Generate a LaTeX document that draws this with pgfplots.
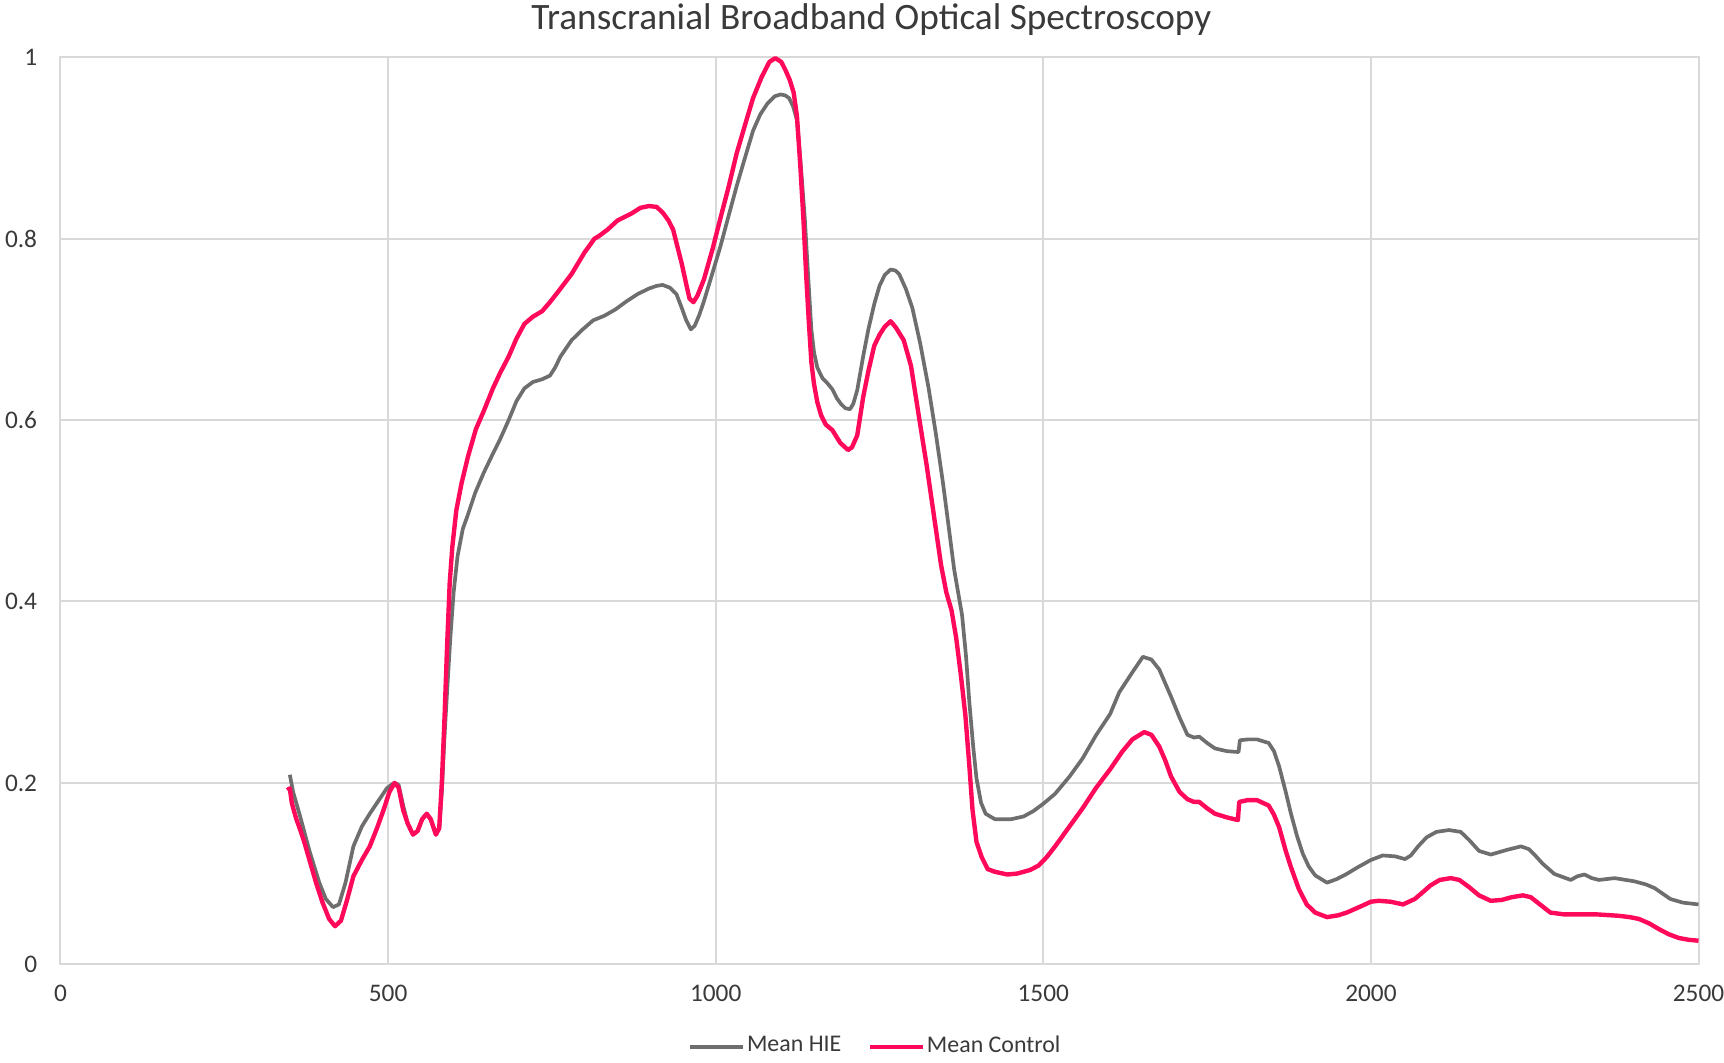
\documentclass[border=0pt]{standalone}
\usepackage{fontspec}
\setmainfont{Carlito}
\usepackage{pgfplots}
\pgfplotsset{compat=1.18}
\definecolor{gridc}{HTML}{D9D9D9}
\definecolor{hie}{HTML}{6E6E6E}
\definecolor{ctrl}{HTML}{FF0A5A}
\definecolor{txt}{HTML}{3A3A3A}
\begin{document}
\begin{tikzpicture}
\path[use as bounding box] (-6.05mm,-9.87mm) rectangle (166.35mm,96.43mm);
\begin{axis}[
  at={(0,0)}, anchor=south west,
  scale only axis, width=163.8mm, height=90.7mm,
  xmin=0, xmax=2500, ymin=0, ymax=1,
  xtick={0,500,...,2500}, ytick={0,0.2,...,1},
  grid=major, major grid style={draw=gridc, line width=0.57pt},
  axis line style={draw=gridc, line width=0.57pt},
  major tick length=0pt,
  /pgf/number format/1000 sep={},
  /pgf/number format/assume math mode=true,
  tick label style={font=\fontsize{7.2}{8}\selectfont, text=txt},
  xticklabel style={yshift=-0.8mm},
  yticklabel style={xshift=-1.1mm},
  title={Transcranial Broadband Optical Spectroscopy},
  title style={at={(0.495,1)}, anchor=center, yshift=1.7mm, font=\fontsize{10.6}{12}\selectfont, text=txt},
  legend columns=2,
  legend style={at={(0.4975,0)}, anchor=center, yshift=-8.24mm, draw=none, fill=none,
    font=\fontsize{6.8}{8}\selectfont, text=txt,
    nodes={inner xsep=0.6pt},
    /tikz/every even column/.append style={column sep=2.4mm}},
  legend image code/.code={\draw[#1] (0mm,0mm) -- (5.3mm,0mm);},
  clip=false,
]
\addplot[hie, line width=1.05pt, line join=round] coordinates {
(350,0.209)(355,0.19)(365,0.165)(380,0.125)(395,0.09)(405,0.072)(416,0.063)(425,0.066)
(435,0.09)(447,0.13)(460,0.152)(472,0.166)(485,0.18)(498,0.194)(509,0.200)(516,0.198)
(523,0.175)(530,0.155)(538,0.143)(545,0.147)(552,0.16)(559,0.166)(565,0.16)(573,0.143)
(578,0.15)(582,0.19)(586,0.25)(590,0.30)(595,0.36)(600,0.41)(606,0.45)(614,0.48)
(621,0.494)(633,0.52)(646,0.542)(660,0.563)(671,0.579)(684,0.60)(696,0.621)(708,0.635)
(721,0.642)(735,0.645)(747,0.649)(755,0.658)(763,0.670)(780,0.688)(797,0.70)(813,0.710)
(830,0.715)(847,0.722)(864,0.731)(881,0.739)(898,0.745)(910,0.748)(919,0.749)(930,0.746)
(940,0.739)(948,0.724)(955,0.710)(962,0.700)(968,0.704)(975,0.716)(982,0.731)(995,0.762)
(1007,0.791)(1020,0.826)(1032,0.858)(1045,0.890)(1057,0.919)(1068,0.937)(1079,0.949)
(1090,0.957)(1099,0.959)(1106,0.958)(1112,0.955)(1118,0.946)(1124,0.931)(1130,0.88)
(1136,0.822)(1141,0.76)(1146,0.70)(1150,0.675)(1155,0.658)(1163,0.646)(1170,0.641)
(1178,0.634)(1185,0.624)(1191,0.618)(1198,0.613)(1205,0.612)(1210,0.618)(1216,0.633)
(1225,0.67)(1233,0.70)(1242,0.728)(1250,0.748)(1258,0.760)(1267,0.766)(1274,0.765)
(1280,0.761)(1290,0.745)(1300,0.724)(1312,0.685)(1325,0.635)(1336,0.585)(1347,0.53)
(1356,0.48)(1364,0.435)(1370,0.41)(1376,0.385)(1382,0.34)(1387,0.29)(1393,0.24)
(1398,0.205)(1405,0.178)(1412,0.166)(1426,0.16)(1451,0.16)(1470,0.163)(1485,0.169)
(1500,0.177)(1518,0.188)
(1540,0.207)(1560,0.227)(1580,0.252)(1602,0.276)(1616,0.3)(1636,0.322)(1652,0.339)
(1665,0.336)(1677,0.325)(1686,0.31)(1695,0.295)(1708,0.272)(1720,0.253)(1730,0.25)
(1738,0.251)(1750,0.244)(1762,0.238)(1780,0.235)(1798,0.234)(1800,0.247)(1813,0.248)
(1826,0.248)(1844,0.244)(1852,0.235)(1860,0.218)(1870,0.19)(1878,0.166)(1887,0.142)
(1896,0.122)(1905,0.108)(1915,0.098)(1933,0.090)(1948,0.094)(1963,0.0996)(1980,0.107)
(2000,0.115)(2018,0.12)(2037,0.119)(2052,0.116)(2061,0.12)(2072,0.13)(2085,0.14)
(2100,0.146)(2119,0.148)(2137,0.146)(2150,0.137)(2165,0.125)(2183,0.121)(2207,0.126)
(2229,0.130)(2241,0.127)(2252,0.119)(2262,0.111)(2280,0.0996)(2305,0.093)(2315,0.097)
(2326,0.099)(2337,0.095)(2348,0.093)(2372,0.095)(2402,0.0915)(2420,0.088)(2433,0.084)
(2445,0.078)(2457,0.072)(2476,0.068)(2500,0.066)
};
\addlegendentry{Mean HIE}
\addplot[ctrl, line width=1.25pt, line join=round] coordinates {
(346,0.192)(350,0.194)(353,0.178)(356,0.17)(360,0.16)(365,0.15)(372,0.135)(380,0.115)
(390,0.09)(400,0.068)(410,0.05)(419,0.042)(428,0.048)(437,0.07)(447,0.097)(460,0.115)
(472,0.13)(483,0.15)(493,0.17)(502,0.19)(510,0.2)(516,0.195)(523,0.17)(530,0.155)
(538,0.143)(545,0.147)(552,0.16)(559,0.166)(565,0.16)(573,0.143)(578,0.15)(582,0.2)
(586,0.27)(590,0.35)(594,0.42)(598,0.46)(604,0.5)(612,0.53)(622,0.56)(634,0.59)
(646,0.61)(660,0.635)(671,0.652)(684,0.67)(696,0.69)(708,0.706)(721,0.714)(735,0.72)
(747,0.73)(760,0.742)(780,0.761)(800,0.785)(815,0.8)(822,0.803)(835,0.81)(850,0.82)
(872,0.828)(885,0.834)(898,0.836)(910,0.835)(920,0.828)(928,0.82)(935,0.81)(942,0.79)
(948,0.773)(955,0.75)(960,0.734)(966,0.73)(972,0.737)(982,0.755)(995,0.788)(1007,0.822)
(1020,0.858)(1032,0.894)(1045,0.926)(1057,0.955)(1070,0.978)(1082,0.995)(1091,0.999)
(1100,0.995)(1107,0.985)(1113,0.975)(1119,0.961)(1124,0.935)(1129,0.882)(1134,0.82)
(1138,0.761)(1142,0.71)(1146,0.664)(1150,0.64)(1155,0.62)(1161,0.605)(1168,0.595)
(1178,0.589)(1190,0.575)(1202,0.567)(1208,0.57)(1216,0.583)(1225,0.625)(1233,0.654)
(1242,0.682)(1250,0.694)(1258,0.703)(1267,0.709)(1275,0.702)(1287,0.688)(1298,0.66)
(1311,0.6)(1322,0.55)(1334,0.49)(1344,0.44)(1352,0.41)(1360,0.39)(1367,0.36)
(1374,0.32)(1381,0.275)(1387,0.22)(1392,0.17)(1398,0.135)(1406,0.118)(1415,0.105)
(1426,0.102)(1445,0.099)(1460,0.1)(1480,0.104)(1493,0.109)(1505,0.118)(1518,0.13)
(1540,0.152)(1560,0.172)(1580,0.194)(1602,0.215)(1620,0.234)(1636,0.248)(1654,0.256)
(1665,0.253)(1677,0.24)(1686,0.225)(1695,0.207)(1708,0.19)(1720,0.182)(1730,0.179)
(1738,0.179)(1750,0.172)(1762,0.166)(1780,0.162)(1797,0.159)(1799,0.179)(1812,0.181)
(1826,0.181)(1844,0.175)(1852,0.165)(1860,0.151)(1870,0.125)(1878,0.107)(1890,0.083)
(1902,0.066)(1915,0.057)(1933,0.052)(1950,0.054)(1963,0.057)(1985,0.064)(2000,0.069)
(2012,0.070)(2030,0.069)(2049,0.066)(2067,0.072)(2080,0.080)(2091,0.087)(2105,0.093)
(2122,0.095)(2135,0.093)(2150,0.085)(2165,0.076)(2183,0.070)(2200,0.071)(2215,0.074)
(2232,0.076)(2244,0.074)(2258,0.066)(2274,0.057)(2295,0.055)(2317,0.055)(2345,0.055)
(2378,0.0535)(2395,0.052)(2409,0.050)(2425,0.045)(2439,0.039)(2455,0.033)(2470,0.029)
(2485,0.027)(2500,0.026)
};
\addlegendentry{Mean Control}
\end{axis}
\end{tikzpicture}
\end{document}
